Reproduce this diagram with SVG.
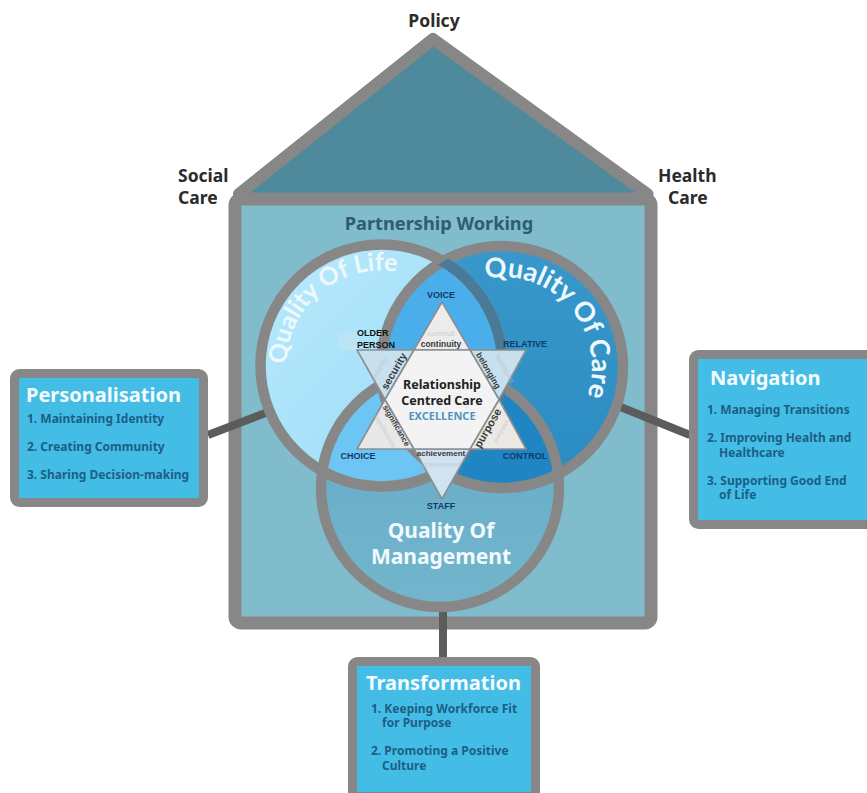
<svg xmlns="http://www.w3.org/2000/svg" width="867" height="793" viewBox="0 0 867 793">
<style>
text{font-family:"Noto Sans","Open Sans","Liberation Sans",sans-serif;font-weight:700}
.g{stroke:#878787;fill:none}
.box{fill:#44bde6;stroke:#878787;stroke-width:9}
.title{fill:#f4fbfe;font-size:20px}
.li{fill:#1c5f85;font-size:12px}
.blk{fill:#2b2b2b;font-size:17.5px}
.q{fill:#eef9fd;font-size:25px;font-family:Lato,"Noto Sans",sans-serif}
.lab{fill:#123a68;font-size:9px;text-anchor:middle;font-family:"Liberation Sans",Arial,sans-serif}
.old{fill:#111;font-size:9px;font-family:"Liberation Sans",Arial,sans-serif}
.val{fill:#3a3a3a;font-size:8.5px;text-anchor:middle;font-family:"Liberation Sans",Arial,sans-serif}
.ghost{fill:#b9b9b9;opacity:.45;font-size:6.5px;text-anchor:middle;font-family:"Liberation Sans",Arial,sans-serif}
.conn{stroke:#5c5c5c;stroke-width:8;fill:none}
.star{stroke:#8a8f94;stroke-width:1.6;stroke-linejoin:round}
</style>
<defs>
<linearGradient id="life" x1="0" y1="0" x2="1" y2="1"><stop offset="0" stop-color="#b9e9fc"/><stop offset="1" stop-color="#98dbf8"/></linearGradient>
<linearGradient id="care" x1="0" y1="0" x2="0" y2="1"><stop offset="0" stop-color="#3898cb"/><stop offset="1" stop-color="#2b8cc2"/></linearGradient>
<linearGradient id="mg" x1="0" y1="0" x2="0" y2="1"><stop offset="0" stop-color="#64aac8"/><stop offset="1" stop-color="#72b5cc"/></linearGradient>
<clipPath id="cLife"><circle cx="381.5" cy="365.5" r="121"/></clipPath>
<clipPath id="cCare"><circle cx="502" cy="367" r="121"/></clipPath>
<path id="pLife" d="M308.7 426.6A95 95 0 0 1 454.3 304.4"/>
<path id="pCare" d="M443 299A90 90 0 0 1 561 435"/>
</defs>

<g id="house">
<path d="M239 194L433 39L647.5 194Z" fill="#4f8a9c"/>
<path d="M239 194L433 39L647.5 194" fill="none" stroke="#878787" stroke-width="12" stroke-linejoin="round" stroke-linecap="round"/>
<rect x="235" y="199" width="416" height="424" rx="6" fill="#80bccb" stroke="#878787" stroke-width="13"/>
<text x="434" y="27" class="blk" text-anchor="middle">Policy</text>
<text x="178" y="182" class="blk">Social</text>
<text x="178" y="204" class="blk">Care</text>
<text x="658" y="182" class="blk">Health</text>
<text x="668" y="204" class="blk">Care</text>
<text x="439" y="230" text-anchor="middle" fill="#2f5c70" font-size="18.2">Partnership Working</text>
</g>

<g id="connectors">
<line class="conn" x1="208" y1="435" x2="268" y2="412"/>
<line class="conn" x1="618" y1="406" x2="690" y2="435"/>
<line class="conn" x1="443" y1="610" x2="443" y2="658"/>
</g>

<g id="venn">
<circle cx="440" cy="488" r="119" fill="url(#mg)"/>
<circle cx="381.5" cy="365.5" r="121" fill="url(#life)"/>
<circle cx="502" cy="367" r="121" fill="url(#care)"/>
<g clip-path="url(#cLife)"><circle cx="502" cy="367" r="121" fill="#49aeea"/><circle cx="440" cy="488" r="119" fill="#6cc5f2"/></g>
<g clip-path="url(#cCare)"><circle cx="440" cy="488" r="119" fill="#2085c3"/></g>
<circle class="g" cx="440" cy="488" r="119" stroke-width="10.5"/>
<circle class="g" cx="381.5" cy="365.5" r="121" stroke-width="10.5"/>
<circle class="g" cx="502" cy="367" r="121" stroke-width="10.5"/>
<g clip-path="url(#cCare)"><circle cx="381.5" cy="365.5" r="121" fill="none" stroke="#4a7a96" stroke-width="10.5"/></g>
<text class="q" text-anchor="middle"><textPath href="#pLife" startOffset="50%">Quality Of Life</textPath></text>
<text class="q" text-anchor="middle" style="font-size:27px"><textPath href="#pCare" startOffset="50%">Quality Of Care</textPath></text>
<text x="441" y="538" text-anchor="middle" fill="#f2fafd" font-size="21">Quality Of</text>
<text x="441" y="564" text-anchor="middle" fill="#f2fafd" font-size="21">Management</text>
</g>

<g id="star">
<rect x="339" y="333" width="20" height="17" fill="#bde4f4"/>
<polygon class="star" points="442,302 414,350 470,350" fill="#ececec"/>
<polygon class="star" points="357,350 414,350 385,399.5" fill="#c8dfed"/>
<polygon class="star" points="526,350 470,350 499,399.5" fill="#c8dfed"/>
<polygon class="star" points="357,449 414,449 385,399.5" fill="#e8e8e8"/>
<polygon class="star" points="526,449 470,449 499,399.5" fill="#ece9e5"/>
<polygon class="star" points="442,499 414,449 470,449" fill="#cfe4f0"/>
<polygon class="star" points="414,350 470,350 499,399.5 470,449 414,449 385,399.5" fill="#f3f3f3"/>
<text x="441" y="336" class="ghost">continuit</text>
<text x="441" y="467" class="ghost">achievement</text>
<text class="ghost" transform="translate(381 370) rotate(-60)">security</text>
<text class="ghost" transform="translate(503 370) rotate(60)">belonging</text>
<text class="ghost" transform="translate(503 432) rotate(-60)">purpose</text>
<text class="ghost" transform="translate(383 432) rotate(60)">significance</text>
<text x="441" y="347" class="val">continuity</text>
<text x="441" y="456" class="val" style="font-size:8px">achievement</text>
<text class="val" transform="translate(397 373) rotate(-60)" style="font-size:10.5px">security</text>
<text class="val" transform="translate(486 372) rotate(60)">belonging</text>
<text class="val" transform="translate(491 430) rotate(-60)" style="font-size:11px">purpose</text>
<text class="val" transform="translate(394 427) rotate(60)" style="font-size:8px">significance</text>
<text x="442" y="389" text-anchor="middle" fill="#222" font-size="12.5">Relationship</text>
<text x="442" y="405" text-anchor="middle" fill="#222" font-size="12.5">Centred Care</text>
<text x="442" y="420" text-anchor="middle" fill="#4e96bd" font-size="11">EXCELLENCE</text>
<text x="441" y="298" class="lab">VOICE</text>
<text x="357" y="336" class="old">OLDER</text>
<text x="357" y="347.5" class="old">PERSON</text>
<text x="525" y="347" class="lab">RELATIVE</text>
<text x="358" y="459" class="lab">CHOICE</text>
<text x="525" y="459" class="lab">CONTROL</text>
<text x="441" y="509" class="lab">STAFF</text>
</g>

<g id="personalisation">
<rect class="box" x="14.5" y="373.5" width="189" height="129" rx="5"/>
<text class="title" x="26" y="402">Personalisation</text>
<text class="li" x="27" y="423">1. Maintaining Identity</text>
<text class="li" x="27" y="451">2. Creating Community</text>
<text class="li" x="27" y="479">3. Sharing Decision-making</text>
</g>

<g id="navigation">
<rect class="box" x="693.5" y="354.5" width="190" height="170" rx="5"/>
<text class="title" x="710" y="385">Navigation</text>
<text class="li" x="707" y="414">1. Managing Transitions</text>
<text class="li" x="707" y="442">2. Improving Health and</text>
<text class="li" x="719" y="457">Healthcare</text>
<text class="li" x="707" y="485">3. Supporting Good End</text>
<text class="li" x="719" y="499">of Life</text>
</g>

<g id="transformation">
<rect class="box" x="352.5" y="661.5" width="183" height="135" rx="5"/>
<text class="title" x="366" y="690">Transformation</text>
<text class="li" x="371" y="713">1. Keeping Workforce Fit</text>
<text class="li" x="382" y="727">for Purpose</text>
<text class="li" x="371" y="755">2. Promoting a Positive</text>
<text class="li" x="382" y="770">Culture</text>
</g>
</svg>
